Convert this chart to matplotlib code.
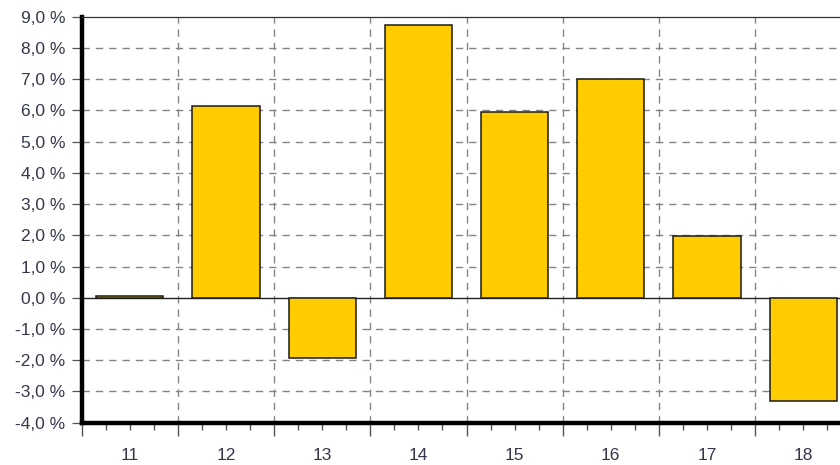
import matplotlib
matplotlib.use("Agg")
import matplotlib.pyplot as plt
from matplotlib.ticker import FixedLocator, FuncFormatter

plt.rcParams['font.family'] = ['Liberation Sans', 'DejaVu Sans']

categories = ["11", "12", "13", "14", "15", "16", "17", "18"]
values = [0.07, 6.15, -1.93, 8.75, 5.96, 7.0, 1.99, -3.3]
yticks = [-4, -3, -2, -1, 0, 1, 2, 3, 4, 5, 6, 7, 8, 9]

fig = plt.figure(figsize=(8.4, 4.65), dpi=100)
W, H = 840, 465
left_px, right_px, top_px, bot_px = 81.7, 851.3, 16.7, 422.7
ax = fig.add_axes([left_px / W, 1 - bot_px / H, (right_px - left_px) / W, (bot_px - top_px) / H])

x = list(range(11, 11 + len(categories)))
ax.bar(x, values, width=0.7, color="#FFCC00", edgecolor="#1a1a1a", linewidth=1.1, zorder=3)
ax.axhline(0, color="#222222", linewidth=1.0, zorder=2)

ax.set_xlim(10.5, 18.5)
ax.set_ylim(-4, 9)

# grid
for yv in yticks[1:-1]:
    if yv == 0:
        continue
    ax.axhline(yv, color="#858585", linewidth=1.0, linestyle=(0, (5.3, 4.3)), zorder=1)
bounds = [10.5 + i for i in range(1, 8)]
for bx in bounds:
    ax.axvline(bx, color="#858585", linewidth=1.0, linestyle=(0, (5.3, 4.3)), zorder=1)

# spines
ax.spines['left'].set_linewidth(3.2)
ax.spines['bottom'].set_linewidth(3.2)
ax.spines['top'].set_linewidth(0.9)
ax.spines['top'].set_color("#333333")
ax.spines['right'].set_visible(False)
ax.spines['left'].set_color("black")
ax.spines['bottom'].set_color("black")

text_color = "#33384a"
ax.yaxis.set_major_locator(FixedLocator(yticks))
ax.yaxis.set_major_formatter(FuncFormatter(lambda v, p: f"{v:.1f}".replace(".", ",") + " %"))
ax.tick_params(axis='y', which='major', length=7, width=0.9, color="#555555", pad=5,
               labelsize=12.5, labelcolor=text_color)

major_x = [10.5 + i for i in range(0, 9)]
minor_x = []
for i in range(8):
    for q in (0.25, 0.5, 0.75):
        minor_x.append(10.5 + i + q)
ax.xaxis.set_major_locator(FixedLocator(major_x))
ax.xaxis.set_minor_locator(FixedLocator(minor_x))
ax.xaxis.set_major_formatter(FuncFormatter(lambda v, p: ""))
lab = {11 + i: c for i, c in enumerate(categories)}
ax.xaxis.set_minor_formatter(FuncFormatter(lambda v, p: lab.get(int(round(v)), "") if abs(v - round(v)) < 1e-6 else ""))
ax.tick_params(axis='x', which='major', length=9, width=1.0, color="#555555")
ax.tick_params(axis='x', which='minor', length=5, width=1.0, color="#555555", pad=13,
               labelsize=12.5, labelcolor=text_color)

fig.savefig("out.png", dpi=100)
